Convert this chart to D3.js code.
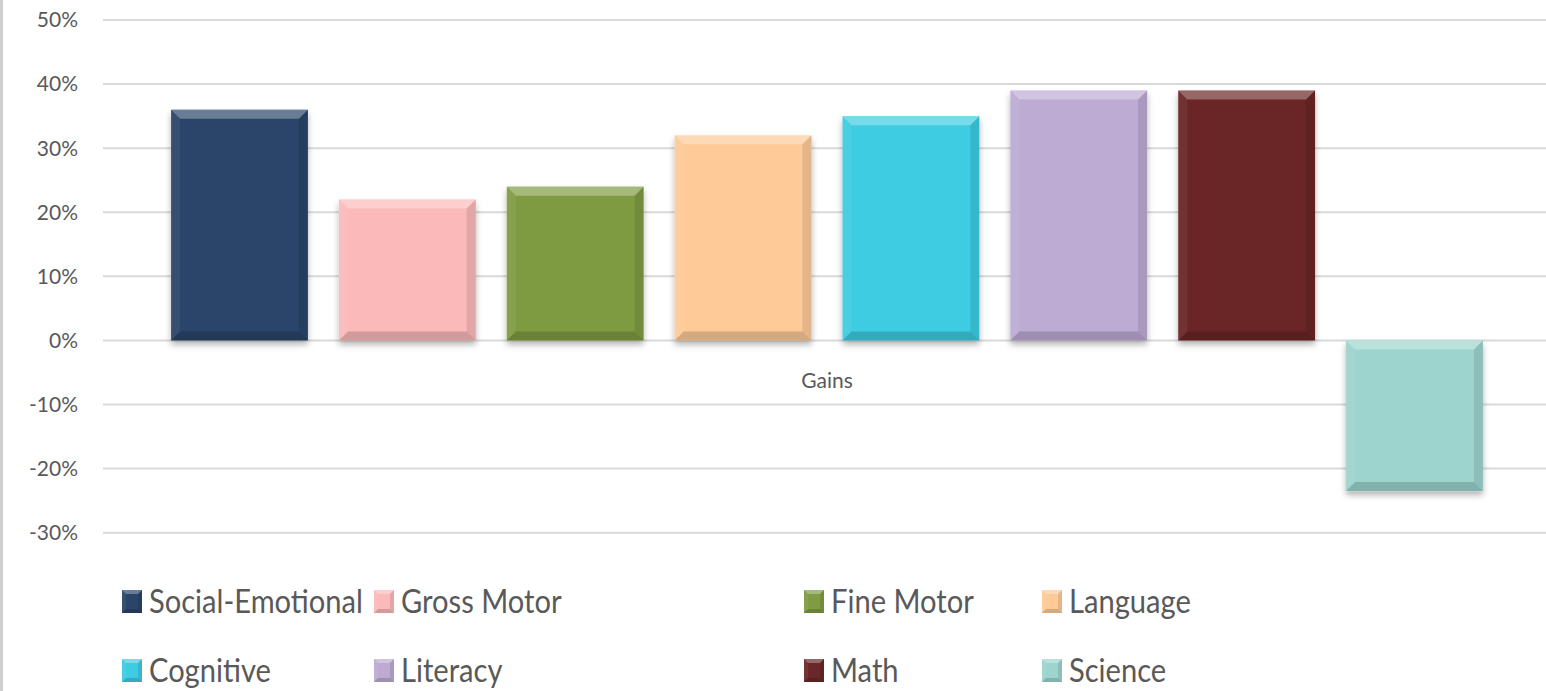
<!DOCTYPE html>
<html>
<head>
<meta charset="utf-8">
<script src="https://cdn.jsdelivr.net/npm/d3@7"></script>
<style>
  html, body { margin: 0; padding: 0; background: #fff; }
  svg { display: block; font-family: Lato, "Open Sans", sans-serif; }
</style>
</head>
<body>
<div id="chart"></div>
<script>
const series = ["Social-Emotional", "Gross Motor", "Fine Motor", "Language",
                "Cognitive", "Literacy", "Math", "Science"];
const gains = [0.36, 0.22, 0.24, 0.32, 0.35, 0.39, 0.39, -0.235];
const colors = ["#2b4569", "#fbb9b9", "#7f9b43", "#fdca98",
                "#3dcce1", "#bdabd4", "#6b2828", "#9dd4cd"];
const yTicks = [-0.3, -0.2, -0.1, 0, 0.1, 0.2, 0.3, 0.4, 0.5];
const categoryLabel = "Gains";

const width = 1546, height = 691;

const svg = d3.select("#chart")
  .append("svg")
  .attr("width", width)
  .attr("height", height);

const defs = svg.append("defs");
const shadow = defs.append("filter")
  .attr("id", "shadow")
  .attr("x", "-10%").attr("y", "-10%")
  .attr("width", "120%").attr("height", "130%");
shadow.append("feDropShadow")
  .attr("dx", 0).attr("dy", 4)
  .attr("stdDeviation", 3)
  .attr("flood-color", "#000")
  .attr("flood-opacity", 0.3);

// left border of the frame
svg.append("line")
  .attr("x1", 1.5).attr("x2", 1.5)
  .attr("y1", 0).attr("y2", height)
  .attr("stroke", "#d0d0d0")
  .attr("stroke-width", 3);

const y = d3.scaleLinear().domain([-0.3, 0.5]).range([532.7, 20]);
const x = d3.scaleBand()
  .domain(series)
  .range([156, 1498])
  .paddingInner(0.185)
  .paddingOuter(0.09);

const pct = d => Math.round(d * 100) + "%";

// gridlines
svg.append("g")
  .selectAll("line")
  .data(yTicks)
  .join("line")
  .attr("x1", 103).attr("x2", width)
  .attr("y1", d => y(d)).attr("y2", d => y(d))
  .attr("stroke", "#d9d9d9")
  .attr("stroke-width", 2);

// y axis labels
svg.append("g")
  .selectAll("text")
  .data(yTicks)
  .join("text")
  .attr("x", 78)
  .attr("y", d => y(d))
  .attr("dy", "0.35em")
  .attr("text-anchor", "end")
  .attr("font-size", 21)
  .attr("fill", "#595959")
  .text(pct);

// bevel helper
function bevel(g, x0, y0, x1, y1, b) {
  const faces = [
    { pts: [[x0, y0], [x1, y0], [x1 - b, y0 + b], [x0 + b, y0 + b]], fill: "#fff", op: 0.3 },
    { pts: [[x0, y0], [x0 + b, y0 + b], [x0 + b, y1 - b], [x0, y1]], fill: "#fff", op: 0.06 },
    { pts: [[x1, y0], [x1 - b, y0 + b], [x1 - b, y1 - b], [x1, y1]], fill: "#000", op: 0.1 },
    { pts: [[x0, y1], [x0 + b, y1 - b], [x1 - b, y1 - b], [x1, y1]], fill: "#000", op: 0.16 }
  ];
  g.selectAll("polygon.face")
    .data(faces)
    .join("polygon")
    .attr("class", "face")
    .attr("points", d => d.pts.map(p => p.join(",")).join(" "))
    .attr("fill", d => d.fill)
    .attr("fill-opacity", d => d.op);
}

// bars
const bars = svg.append("g")
  .selectAll("g.bar")
  .data(series.map((s, i) => ({ name: s, value: gains[i], color: colors[i] })))
  .join("g")
  .attr("class", "bar");

bars.each(function (d) {
  const g = d3.select(this);
  const x0 = x(d.name), x1 = x0 + x.bandwidth();
  const y0 = Math.min(y(0), y(d.value)), y1 = Math.max(y(0), y(d.value));
  g.append("rect")
    .attr("x", x0).attr("y", y0)
    .attr("width", x1 - x0).attr("height", y1 - y0)
    .attr("fill", d.color)
    .attr("filter", "url(#shadow)");
  bevel(g, x0, y0, x1, y1, 9);
});

// category label
svg.append("text")
  .attr("x", (x.range()[0] + x.range()[1]) / 2)
  .attr("y", 381)
  .attr("dy", "0.35em")
  .attr("text-anchor", "middle")
  .attr("font-size", 21)
  .attr("fill", "#595959")
  .text(categoryLabel);

// legend
const legendCols = [122, 374, 804, 1042];
const legendRows = [601, 670];
const legend = svg.append("g")
  .selectAll("g.item")
  .data(series.map((s, i) => ({ name: s, color: colors[i], col: i % 4, row: Math.floor(i / 4) })))
  .join("g")
  .attr("class", "item")
  .attr("transform", d => `translate(${legendCols[d.col]},${legendRows[d.row]})`);

legend.each(function (d) {
  const g = d3.select(this);
  g.append("rect")
    .attr("x", 0).attr("y", -11)
    .attr("width", 20).attr("height", 23)
    .attr("fill", d.color);
  bevel(g, 0, -11, 20, 12, 4);
});

const legendText = legend.append("text")
  .attr("y", 0)
  .attr("dy", "0.36em")
  .attr("font-size", 33)
  .attr("fill", "#595959")
  .text(d => d.name);

// the original font is narrower, squeeze horizontally so the longest label fits its column
const w0 = legendText.filter(d => d.name === "Social-Emotional").node().getComputedTextLength();
const sx = Math.min(1, 214 / w0);
legendText.attr("transform", `translate(27,0) scale(${sx},1)`);
</script>
</body>
</html>
